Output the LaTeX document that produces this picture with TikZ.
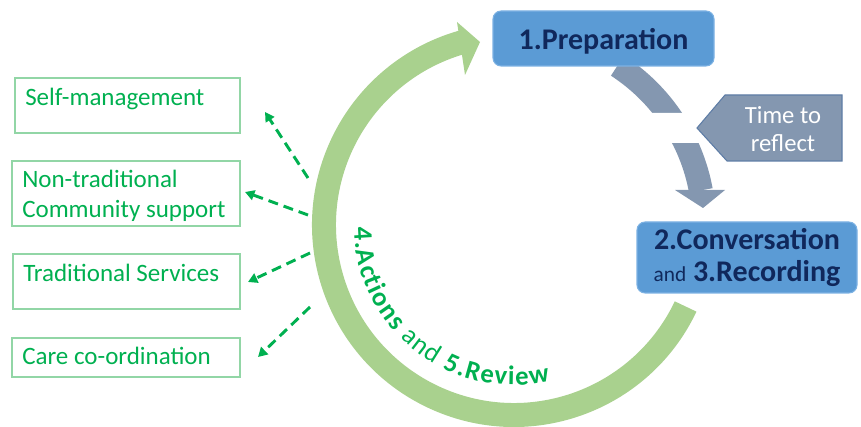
\documentclass[tikz,border=0pt]{standalone}
\usepackage{fontspec}
\setmainfont{Carlito}
\usetikzlibrary{arrows.meta,decorations.text}
\definecolor{boxblue}{HTML}{5B9BD5}
\definecolor{boxedge}{HTML}{7DB2E3}
\definecolor{navy}{HTML}{10285C}
\definecolor{greyarc}{HTML}{8497B0}
\definecolor{greyedge}{HTML}{5E7DA6}
\definecolor{ringgreen}{HTML}{A9D18E}
\definecolor{txtgreen}{HTML}{00B050}
\definecolor{lboxedge}{HTML}{92D6A6}
\newcommand{\ringfont}{\fontsize{20}{24}\selectfont\color{txtgreen}}
\begin{document}
\begin{tikzpicture}[x=0.75pt,y=0.75pt,
  stagebox/.style={draw=boxedge, line width=0.8pt, fill=boxblue, rounded corners=6pt, text=navy, inner sep=0pt},
  sidebox/.style={draw=lboxedge, line width=1pt, inner sep=0pt},
  sidetext/.style={text=txtgreen, font=\fontsize{18.75}{22.5}\selectfont, anchor=base west, inner sep=0pt, align=left},
  outarrow/.style={draw=txtgreen, line width=2.2pt, dash pattern=on 7.5pt off 4.5pt, -{Triangle[length=7pt,width=7.5pt]}}
]
\useasboundingbox (0,0) rectangle (861,-427);

% circular arcs around common centre
\begin{scope}[shift={(514,-225)}]
  \fill[greyarc] (57:202) arc[start angle=57,end angle=10.5,radius=202] -- (10.5:178) arc[start angle=10.5,end angle=57,radius=178] -- cycle;
  \fill[ringgreen] (-25.4:202) arc[start angle=-25.4,end angle=-255.5,radius=202] -- (-255.5:178) arc[start angle=-255.5,end angle=-25.4,radius=178] -- cycle;
  \path[decorate, decoration={text along path, text align=fit to path,
     text={|\ringfont\bfseries|4.Actions |\ringfont\mdseries|and |\ringfont\bfseries|5.Review}}]
     (181:160) arc[start angle=181,end angle=283,radius=160];
\end{scope}
\fill[greyarc] (675,-190) -- (725,-190) -- (703,-208) -- cycle;
\fill[ringgreen] (457,-22) -- (480,-42) -- (465,-75) -- cycle;

% gap in the grey arrow and the reflect pointer
\fill[white, rounded corners=3pt] (637,-113) rectangle (705,-143);
\draw[greyedge, fill=greyarc, line width=0.8pt] (697,-128) -- (725,-95) -- (842,-95) -- (842,-161) -- (727,-161) -- cycle;
\node[text=white, align=center, font=\fontsize{18.5}{20.5}\selectfont] (reflect) at (783,-129) {Time to\\reflect};

% stage boxes
\node[stagebox, minimum width=165.75pt, minimum height=41.25pt, font=\fontsize{22.5}{27}\selectfont\bfseries, text depth=0pt] (prep) at (603.5,-38.5) {1.Preparation};
\node[stagebox, minimum width=165pt, minimum height=53.25pt, align=center, font=\fontsize{22.5}{24}\selectfont\bfseries] (conv) at (747,-257.5) {2.Conversation\\{\fontsize{16}{24}\selectfont\mdseries and} 3.Recording};

% side boxes
\node[sidebox, minimum width=168.75pt, minimum height=41.25pt] (b1) at (127.5,-105.5) {};
\node[sidebox, minimum width=171pt, minimum height=48.75pt] (b2) at (126,-193.5) {};
\node[sidebox, minimum width=170.25pt, minimum height=41.25pt] (b3) at (126.5,-281.5) {};
\node[sidebox, minimum width=171pt, minimum height=29.25pt] (b4) at (126,-357.5) {};
\node[sidetext] (t1) at (25,-106) {Self-management};
\node[sidetext] (t2) at (22,-218) {Non-traditional\\Community support};
\node[sidetext] (t3) at (23,-282) {Traditional Services};
\node[sidetext] (t4) at (22,-365) {Care co-ordination};

% dashed outgoing arrows
\coordinate (s1) at (308,-178); \coordinate (e1) at (265,-112);
\coordinate (s2) at (308,-215); \coordinate (e2) at (245,-192);
\coordinate (s3) at (310,-253); \coordinate (e3) at (248,-282);
\coordinate (s4) at (310,-307); \coordinate (e4) at (258,-357);
\draw[outarrow] (s1) -- (e1);
\draw[outarrow] (s2) -- (e2);
\draw[outarrow] (s3) -- (e3);
\draw[outarrow] (s4) -- (e4);
\end{tikzpicture}
\end{document}
